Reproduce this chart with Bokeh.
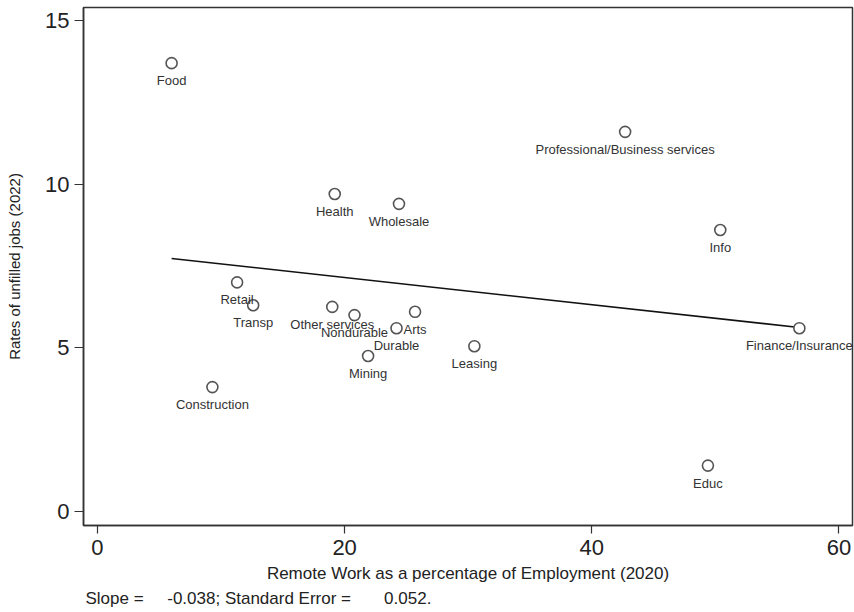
from bokeh.plotting import figure
from bokeh.models import ColumnDataSource, Range1d, FixedTicker, LabelSet, Title
from bokeh.core.properties import value
from bokeh.embed import file_html
from bokeh.resources import INLINE

# Data
industries = ["Food", "Professional/Business services", "Health", "Wholesale", "Info",
              "Retail", "Transp", "Other services", "Nondurable", "Arts", "Durable",
              "Finance/Insurance", "Mining", "Leasing", "Construction", "Educ"]
remote_pct = [6.0, 42.7, 19.2, 24.4, 50.4,
              11.3, 12.6, 19.0, 20.8, 25.7, 24.2,
              56.8, 21.9, 30.5, 9.3, 49.4]
unfilled_rate = [13.7, 11.6, 9.7, 9.4, 8.6,
                 7.0, 6.3, 6.25, 6.0, 6.1, 5.6,
                 5.6, 4.75, 5.05, 3.8, 1.4]

fit_x = [6.0, 56.8]
fit_y = [7.73, 5.62]

x_ticks = [0, 20, 40, 60]
y_ticks = [0, 5, 10, 15]

NB = "\u00a0"
footnote = "Slope =" + NB * 4 + " -0.038; Standard Error =" + NB * 6 + " 0.052."

FONT = "Liberation Sans"

p = figure(width=854, height=612, output_backend="svg", toolbar_location=None,
           x_range=Range1d(-1.13, 61.1), y_range=Range1d(-0.43, 15.4),
           min_border_left=83, min_border_right=2, min_border_top=7, min_border_bottom=87)
p.grid.visible = False
p.outline_line_color = "#333333"
p.outline_line_width = 1.5
p.background_fill_color = "white"
p.border_fill_color = "white"

for ax in (p.xaxis[0], p.yaxis[0]):
    ax.major_label_text_font = FONT
    ax.major_label_text_font_size = "22px"
    ax.major_label_text_color = "#222222"
    ax.axis_label_text_font = FONT
    ax.axis_label_text_font_style = "normal"
    ax.axis_label_text_color = "#222222"
    ax.axis_line_color = "#333333"
    ax.axis_line_width = 1.5
    ax.major_tick_line_color = "#333333"
    ax.major_tick_line_width = 1.2
    ax.major_tick_in = 0
    ax.minor_tick_line_color = None

p.xaxis.ticker = FixedTicker(ticks=x_ticks)
p.yaxis.ticker = FixedTicker(ticks=y_ticks)
p.xaxis.axis_label = "Remote Work as a percentage of Employment (2020)"
p.yaxis.axis_label = "Rates of unfilled jobs (2022)"
p.xaxis.axis_label_text_font_size = "17px"
p.yaxis.axis_label_text_font_size = "15px"
p.xaxis.major_tick_out = 8
p.yaxis.major_tick_out = 9
p.xaxis.major_label_standoff = 6
p.xaxis.axis_label_standoff = 6
p.yaxis.major_label_standoff = 5
p.yaxis.axis_label_standoff = 19

src = ColumnDataSource(dict(x=remote_pct, y=unfilled_rate, name=industries))

p.line(fit_x, fit_y, line_color="#111111", line_width=1.6)
p.scatter("x", "y", source=src, marker="circle", size=11, fill_color="white",
          line_color="#555555", line_width=1.6)

labels = LabelSet(x="x", y="y", text="name", source=src, y_offset=-10,
                  text_align="center", text_baseline="top",
                  text_font=value(FONT), text_font_size=value("13px"),
                  text_color="#333333")
p.add_layout(labels)

foot = Title(text=footnote, align="left", text_font=FONT, text_font_size="17px",
             text_font_style="normal", text_color="#222222", offset=2, standoff=2)
p.add_layout(foot, "below")

open("out.html", "w").write(file_html(p, INLINE))
